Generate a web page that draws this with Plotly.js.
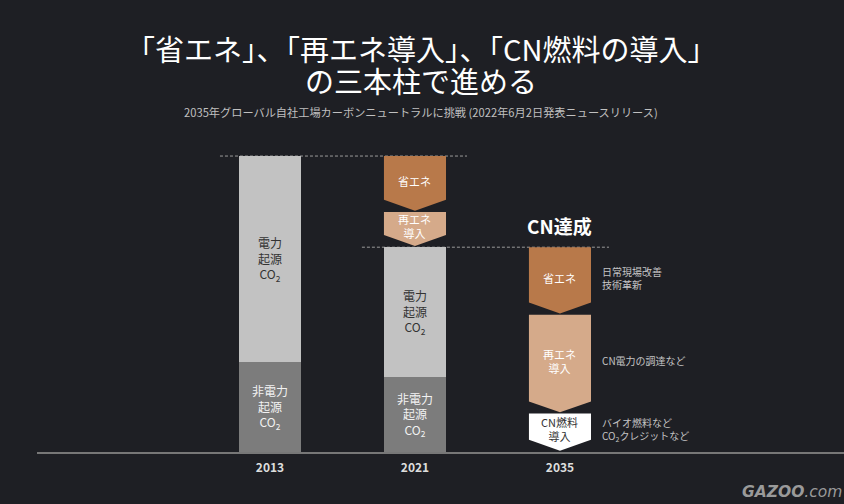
<!DOCTYPE html>
<html>
<head>
<meta charset="utf-8">
<script src="https://cdn.plot.ly/plotly-3.0.1.min.js"></script>
<style>
  html, body { margin: 0; padding: 0; background: #1e1f24; }
  #chart { width: 844px; height: 504px; }
</style>
</head>
<body>
<div id="chart"></div>
<script>
// ---- data (index, 2013 total = 100) ----
const categories = ['2013', '2021', '2035'];
const barYears = [0, 1];                     // positions of 2013 and 2021 among categories
const nonElecCO2 = [30.4, 25.3];
const elecCO2 = [69.6, 43.9];
const nonElecLabel = '非電力<br>起源<br>CO<sub>2</sub>';
const elecLabel = '電力<br>起源<br>CO<sub>2</sub>';

const cut2021Labels = ['省エネ', '再エネ<br>導入'];
const cut2021Values = [18.9, 11.9];

const cut2035Labels = ['省エネ', '再エネ<br>導入', 'CN燃料<br>導入'];
const cut2035Values = [22.8, 33.4, 13.0];
const cut2035Notes = ['日常現場改善<br>技術革新', 'CN電力の調達など', 'バイオ燃料など<br>CO<sub>2</sub>クレジットなど'];

const titleLine1 = '「省エネ」、「再エネ導入」、「CN燃料の導入」';
const titleLine2 = 'の三本柱で進める';
const subtitle = '2035年グローバル自社工場カーボンニュートラルに挑戦 (2022年6月2日発表ニュースリリース)';
const goalLabel = 'CN達成';

// ---- styles ----
const FONT = 'Noto Sans CJK JP, Noto Sans, sans-serif';
const BG = '#1e1f24';
const arrowColors = ['#b8794a', '#d5aa8a', '#ffffff'];
const arrowTextColors = ['#ffffff', '#ffffff', '#333333'];
const BAR_W = 0.428;
const TIP = 3.7;   // arrow tip height (y units)
const GAP = 0.4;   // gap between stacked arrows

const traces = [];
const annotations = [];

traces.push({
  type: 'bar', x: barYears, y: nonElecCO2, width: BAR_W,
  marker: { color: '#7c7c7c', line: { width: 0 } },
  text: barYears.map(() => nonElecLabel), textposition: 'inside', insidetextanchor: 'middle',
  textangle: 0, constraintext: 'none',
  textfont: { family: FONT, size: 12, color: '#f2f2f2' }, hoverinfo: 'skip'
});
traces.push({
  type: 'bar', x: barYears, y: elecCO2, width: BAR_W,
  marker: { color: '#c2c2c2', line: { width: 0 } },
  text: barYears.map(() => elecLabel), textposition: 'inside', insidetextanchor: 'middle',
  textangle: 0, constraintext: 'none',
  textfont: { family: FONT, size: 12, color: '#333333' }, hoverinfo: 'skip'
});

function addArrows(xc, startTop, values, labels, notes) {
  let top = startTop;
  values.forEach((v, i) => {
    const bot = top - v;
    const hw = BAR_W / 2;
    const tipY = bot + GAP;
    const sh = tipY + TIP;
    traces.push({
      type: 'scatter', mode: 'lines', fill: 'toself',
      x: [xc - hw, xc + hw, xc + hw, xc, xc - hw, xc - hw],
      y: [top, top, sh, tipY, sh, top],
      fillcolor: arrowColors[i], line: { width: 0, color: arrowColors[i] },
      hoverinfo: 'skip', showlegend: false
    });
    const ly = (top + tipY + TIP * 0.5) / 2;
    annotations.push({
      x: xc, y: ly, xref: 'x', yref: 'y', text: labels[i], showarrow: false,
      font: { family: FONT, size: 11, color: arrowTextColors[i] }, align: 'center'
    });
    if (notes) {
      annotations.push({
        x: xc, y: ly, xref: 'x', yref: 'y', xanchor: 'left', xshift: 40, text: notes[i],
        showarrow: false, align: 'left',
        font: { family: FONT, size: 10, color: '#c4c4c4' }
      });
    }
    top = bot;
  });
}

const total2013 = nonElecCO2[0] + elecCO2[0];
const total2021 = nonElecCO2[1] + elecCO2[1];
addArrows(1, total2013, cut2021Values, cut2021Labels, null);
addArrows(2, total2021, cut2035Values, cut2035Labels, cut2035Notes);

annotations.push({
  x: 2, y: total2021, xref: 'x', yref: 'y', yanchor: 'middle', yshift: 22,
  text: '<b>' + goalLabel + '</b>', showarrow: false,
  font: { family: FONT, size: 19, color: '#ffffff' }
});

// titles (paper coords)
annotations.push({ xref: 'paper', yref: 'paper', x: 0.476, y: 1.2547, yanchor: 'middle',
  text: titleLine1, showarrow: false, font: { family: FONT, size: 29, color: '#ffffff' } });
annotations.push({ xref: 'paper', yref: 'paper', x: 0.476, y: 1.155, yanchor: 'middle',
  text: titleLine2, showarrow: false, font: { family: FONT, size: 29, color: '#ffffff' } });
annotations.push({ xref: 'paper', yref: 'paper', x: 0.476, y: 1.056, yanchor: 'middle',
  text: subtitle, showarrow: false, font: { family: FONT, size: 11.2, color: '#c0c0c0' } });
annotations.push({ xref: 'paper', yref: 'paper', x: 1, y: -0.124, xanchor: 'right', yanchor: 'middle',
  text: '<b><i>GAZOO</i></b><i>.com</i>', showarrow: false,
  font: { family: 'DejaVu Sans, sans-serif', size: 15.5, color: '#9a9a9a' } });

const shapes = [
  { type: 'line', xref: 'x', yref: 'y', x0: 0 - 0.345, x1: 1 + 0.359, y0: total2013, y1: total2013,
    line: { color: '#9a9a9a', width: 1, dash: '3px,2px' }, layer: 'below' },
  { type: 'line', xref: 'x', yref: 'y', x0: 1 - 0.366, x1: 2 + 0.338, y0: total2021, y1: total2021,
    line: { color: '#9a9a9a', width: 1, dash: '3px,2px' }, layer: 'below' }
];

const layout = {
  width: 844, height: 504,
  margin: { l: 37, r: 0, t: 130, b: 52, pad: 0 },
  paper_bgcolor: BG, plot_bgcolor: BG,
  barmode: 'stack', showlegend: false,
  xaxis: {
    range: [-1.607, 3.959], tickmode: 'array', tickvals: [0, 1, 2],
    ticktext: categories.map(c => '<b>' + c + '</b>'),
    showline: true, linecolor: '#777777', linewidth: 2, ticks: '', showgrid: false, zeroline: false,
    tickfont: { family: FONT, size: 12, color: '#dddddd' }, ticklabelstandoff: 4, fixedrange: true
  },
  yaxis: { range: [0, 108.8], visible: false, fixedrange: true },
  annotations: annotations, shapes: shapes
};

Plotly.newPlot('chart', traces, layout, { displayModeBar: false, staticPlot: true });
</script>
</body>
</html>
